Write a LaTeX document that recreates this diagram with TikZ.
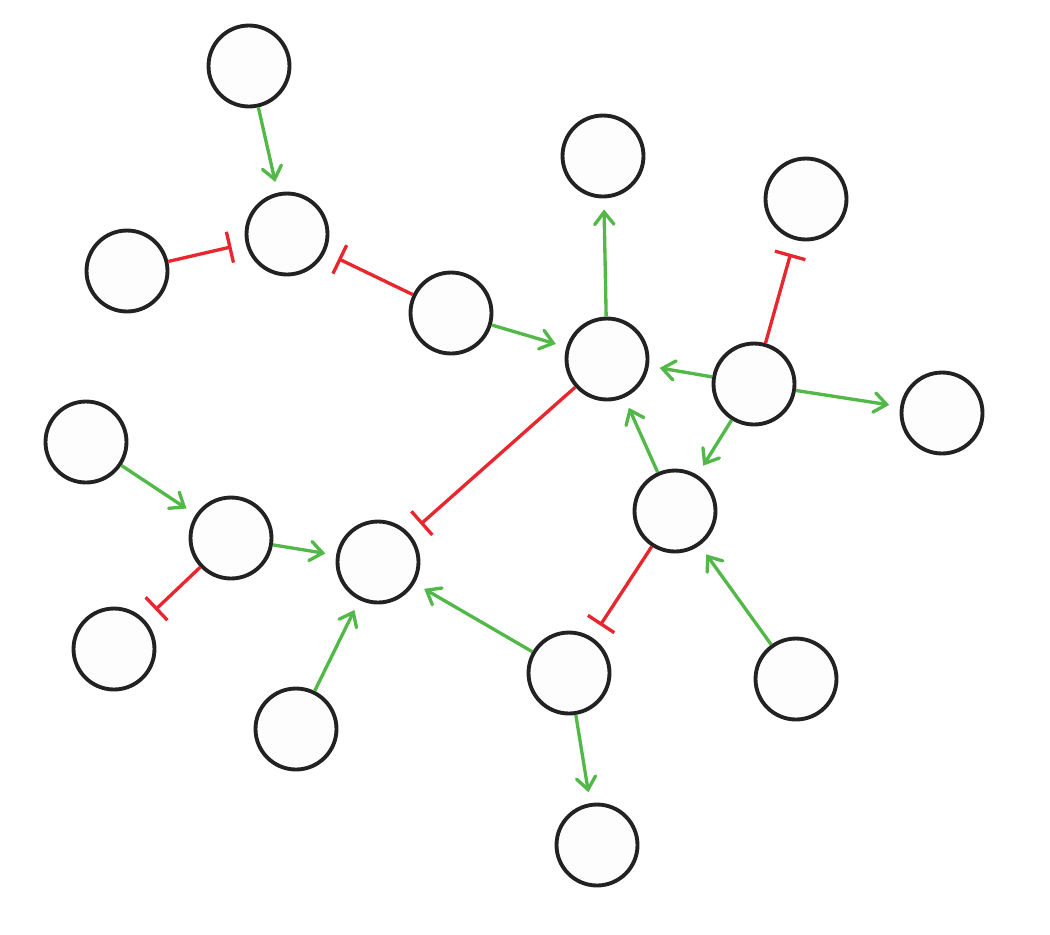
\documentclass[tikz,border=0pt]{standalone}
\usetikzlibrary{arrows.meta}
\definecolor{actgreen}{HTML}{52B848}
\definecolor{inhred}{HTML}{E8262D}
\definecolor{ringgray}{HTML}{222222}
\definecolor{nodefill}{HTML}{FDFDFD}
\tikzset{
  gene/.style={circle, draw=ringgray, fill=nodefill, line width=2.2pt, minimum size=1.62cm, inner sep=0pt},
  act/.style={draw=actgreen, line width=1.9pt, -{Straight Barb[length=7pt,width=11pt,line cap=round]}, shorten >=0.22cm},
  inh/.style={draw=inhred, line width=1.9pt, -{Bar[width=18pt]}, shorten >=0.29cm}
}
\begin{document}
\begin{tikzpicture}[x=0.02cm,y=-0.02cm]
\useasboundingbox (0,0) rectangle (1050,934);
\node[gene] (A) at (249,66) {};
\node[gene] (B) at (287,234) {};
\node[gene] (C) at (127,271) {};
\node[gene] (D) at (451,313) {};
\node[gene] (E) at (603,156) {};
\node[gene] (F) at (607,359) {};
\node[gene] (G) at (806,199) {};
\node[gene] (H) at (754,384) {};
\node[gene] (I) at (942,413) {};
\node[gene] (J) at (86,442) {};
\node[gene] (K) at (231,538) {};
\node[gene] (L) at (378,562) {};
\node[gene] (M) at (114,649) {};
\node[gene] (N) at (675,511) {};
\node[gene] (O) at (569,673) {};
\node[gene] (P) at (796,679) {};
\node[gene] (Q) at (296,729) {};
\node[gene] (R) at (597,845) {};
% activations
\draw[act] (A) -- (B);
\draw[act] (D) -- (F);
\draw[act] (F) -- (E);
\draw[act] (H) -- (F);
\draw[act] (H) -- (I);
\draw[act] (H) -- (N);
\draw[act] (N) -- (F);
\draw[act] (J) -- (K);
\draw[act] (K) -- (L);
\draw[act] (Q) -- (L);
\draw[act] (O) -- (L);
\draw[act] (P) -- (N);
\draw[act] (O) -- (R);
% inhibitions
\draw[inh] (C) -- (B);
\draw[inh] (D) -- (B);
\draw[inh] (H) -- (G);
\draw[inh] (F) -- (L);
\draw[inh] (K) -- (M);
\draw[inh] (N) -- (O);
\end{tikzpicture}
\end{document}
